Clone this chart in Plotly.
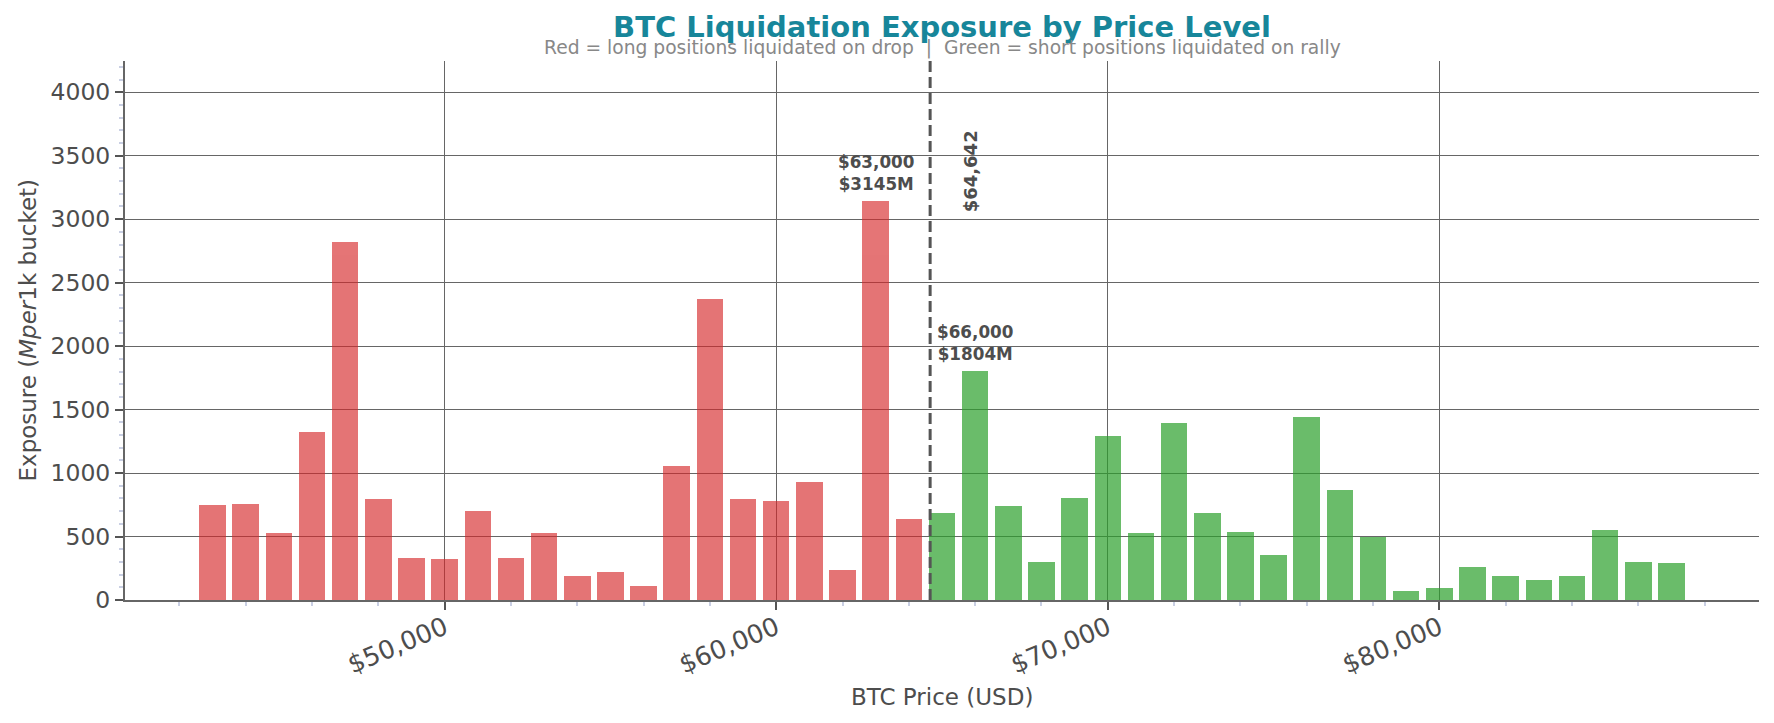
import plotly.graph_objects as go

# ---- data ----
prices = [43000, 44000, 45000, 46000, 47000, 48000, 49000, 50000, 51000, 52000,
          53000, 54000, 55000, 56000, 57000, 58000, 59000, 60000, 61000, 62000,
          63000, 64000, 65000, 66000, 67000, 68000, 69000, 70000, 71000, 72000,
          73000, 74000, 75000, 76000, 77000, 78000, 79000, 80000, 81000, 82000,
          83000, 84000, 85000, 86000, 87000]
exposure = [745, 753, 524, 1321, 2821, 792, 334, 326, 705, 334,
            524, 192, 224, 113, 1053, 2371, 792, 776, 926, 239,
            3145, 642, 689, 1804, 737, 303, 800, 1289, 524, 1392,
            689, 539, 358, 1439, 863, 500, 74, 97, 263, 192,
            161, 192, 555, 303, 289]
current_price = 64642
x_tick_vals = [50000, 60000, 70000, 80000]
x_tick_text = ["$50,000", "$60,000", "$70,000", "$80,000"]
y_tick_vals = [0, 500, 1000, 1500, 2000, 2500, 3000, 3500, 4000]
highlight_prices = [63000, 66000]

long_x = [p for p in prices if p < current_price]
long_y = [v for p, v in zip(prices, exposure) if p < current_price]
short_x = [p for p in prices if p >= current_price]
short_y = [v for p, v in zip(prices, exposure) if p >= current_price]

FONT = "DejaVu Sans"
TXT = "#4d4d4d"

fig = go.Figure()
fig.add_trace(go.Bar(x=long_x, y=long_y, width=800, marker=dict(color="#d62728", line=dict(width=0)),
                     opacity=0.64, name="Long", showlegend=False))
fig.add_trace(go.Bar(x=short_x, y=short_y, width=800, marker=dict(color="#2ca02c", line=dict(width=0)),
                     opacity=0.7, name="Short", showlegend=False))

fig.add_shape(type="line", x0=current_price, x1=current_price, y0=0, y1=1, yref="paper",
              line=dict(color="#555555", width=3, dash="11px,5px"))

fig.add_annotation(x=current_price, y=3378, xshift=40, text="<b>$%s</b>" % format(current_price, ","),
                   textangle=-90, showarrow=False, font=dict(family=FONT, size=18, color=TXT),
                   xanchor="center", yanchor="middle")

for hp in highlight_prices:
    v = exposure[prices.index(hp)]
    fig.add_annotation(x=hp, y=v, yshift=5, text="<b>$%s<br>$%dM</b>" % (format(hp, ","), v),
                       showarrow=False, font=dict(family=FONT, size=16.8, color=TXT),
                       xanchor="center", yanchor="bottom")

fig.update_layout(
    width=1774, height=723,
    margin=dict(l=125, r=15, t=61, b=123),
    paper_bgcolor="white", plot_bgcolor="white",
    bargap=0,
    title=dict(text="<b>BTC Liquidation Exposure by Price Level</b>",
               font=dict(family=FONT, size=29, color="#17869a"),
               x=(125 + 1759) / 2 / 1774, xanchor="center", y=1 - 27 / 723, yanchor="middle"),
    xaxis=dict(range=[40360, 89640], tickvals=x_tick_vals, ticktext=x_tick_text, automargin=False,
               tickangle=-23, tickfont=dict(family=FONT, size=25.5, color=TXT), ticklabelstandoff=-7,
               ticks="outside", ticklen=8, tickwidth=1.5, tickcolor="#555555",
               showgrid=True, gridcolor="#666666", gridwidth=1,
               showline=True, linecolor="#666666", linewidth=2, zeroline=False,
               minor=dict(dtick=2000, tick0=42000, ticks="outside", ticklen=4,
                          tickcolor="#c9cfe3", showgrid=False)),
    yaxis=dict(range=[0, 4246], tickvals=y_tick_vals, automargin=False,
               tickfont=dict(family=FONT, size=23.5, color=TXT),
               ticks="outside", ticklen=8, tickwidth=1.5, tickcolor="#555555",
               showgrid=True, gridcolor="#666666", gridwidth=1.3,
               showline=True, linecolor="#666666", linewidth=2, zeroline=False,
               minor=dict(dtick=100, ticks="outside", ticklen=4, tickcolor="#c9cfe3", showgrid=False)),
)

fig.add_annotation(x=0.5, xref="paper", y=0, yref="paper", yshift=-97,
                   text="BTC Price (USD)", showarrow=False,
                   font=dict(family=FONT, size=23, color=TXT), xanchor="center", yanchor="middle")
fig.add_annotation(x=0, xref="paper", y=0.5, yref="paper", xshift=-98, textangle=-90,
                   text="Exposure (<i>Mper</i>1k bucket)", showarrow=False,
                   font=dict(family=FONT, size=23, color=TXT), xanchor="center", yanchor="middle")

fig.add_annotation(x=0.5, xref="paper", y=1, yref="paper", yshift=0,
                   text="Red = long positions liquidated on drop  |  Green = short positions liquidated on rally",
                   showarrow=False, font=dict(family=FONT, size=18.7, color="#888888"),
                   xanchor="center", yanchor="bottom")

fig.write_html("out.html")
